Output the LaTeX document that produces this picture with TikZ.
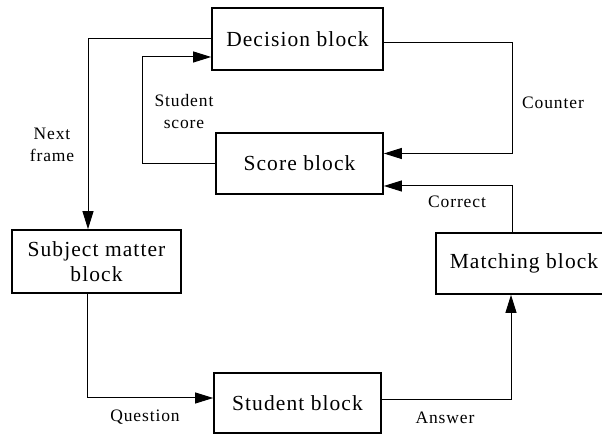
\documentclass[tikz,border=0pt]{standalone}
\usepackage{fontspec}
\setmainfont{Liberation Serif}[LetterSpace=5]
\usetikzlibrary{arrows.meta}
\begin{document}
\begin{tikzpicture}[x=1pt,y=1pt,
  blk/.style={draw,line width=1.7pt,rectangle,inner sep=0pt,align=center,
    font=\fontsize{21.5}{25}\selectfont},
  lbl/.style={inner sep=0pt,align=center,font=\fontsize{17.5}{22}\selectfont},
  conn/.style={line width=1pt},
  arr/.style={conn,-{Triangle[length=18pt,width=11pt]}}]
\useasboundingbox (0,0) rectangle (602,435);
\fill[white] (0,0) rectangle (602,435);
\node[blk,minimum width=171pt,minimum height=62pt] (dec) at (297.5,396) {Decision block};
\node[blk,minimum width=167pt,minimum height=61pt] (score) at (299.5,271.5) {Score block};
\node[blk,minimum width=169pt,minimum height=63pt] (subj) at (96.5,173.5) {Subject matter\\block};
\node[blk,minimum width=167pt,minimum height=60pt] (stud) at (297.5,32) {Student block};
\node[blk,minimum width=176pt,minimum height=61pt] (match) at (524,171.5) {Matching block};
\draw[arr] (dec.west) -| ([xshift=-8.5pt]subj.north);
\draw[arr] (score.west) -- ++(-73pt,0) |- ([yshift=-18pt]dec.west);
\draw[arr] ([yshift=-4pt]dec.east) -- ++(129pt,0) |- ([yshift=10pt]score.east);
\draw[arr] ([xshift=-12pt]match.north) |- ([yshift=-22.5pt]score.east);
\draw[arr] ([xshift=-9.5pt]subj.south) |- ([yshift=5pt]stud.west);
\draw[arr] ([yshift=3pt]stud.east) -| ([xshift=-13pt]match.south);
\node[lbl] (lnext) at (52,290) {Next\\frame};
\node[lbl] (lscore) at (184,323) {Student\\score};
\node[lbl] (lcounter) at (553,332) {Counter};
\node[lbl] (lcorrect) at (457,233) {Correct};
\node[lbl] (lquestion) at (145,18) {Question};
\node[lbl] (lanswer) at (445,17) {Answer};
\end{tikzpicture}
\end{document}
